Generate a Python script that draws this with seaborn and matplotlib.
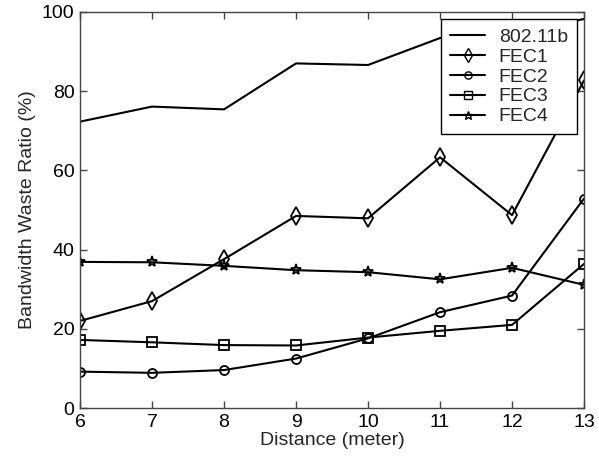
import numpy as np
import pandas as pd
import seaborn as sns
import matplotlib
matplotlib.use("Agg")
import matplotlib.pyplot as plt
from matplotlib.lines import Line2D

distance = [6, 7, 8, 9, 10, 11, 12, 13]
wlan = [72.3, 76.1, 75.4, 87.0, 86.6, 93.4, 95.0, 98.2]
fec1 = [22.0, 27.0, 37.6, 48.5, 47.9, 63.3, 48.7, 82.7]
fec2 = [9.2, 8.9, 9.6, 12.5, 17.6, 24.2, 28.4, 52.9]
fec3 = [17.2, 16.6, 15.9, 15.8, 17.8, 19.5, 21.0, 36.4]
fec4 = [36.9, 36.8, 35.9, 34.8, 34.3, 32.5, 35.4, 31.1]
series_names = ["802.11b", "FEC1", "FEC2", "FEC3", "FEC4"]
series_vals = [wlan, fec1, fec2, fec3, fec4]

sns.set_style("white")
plt.rcParams["font.family"] = ["Liberation Sans", "DejaVu Sans"]

fig = plt.figure(figsize=(5.99, 4.58), dpi=100)
fig.patch.set_facecolor("white")
ax = fig.add_axes([0.1336, 0.109, 0.8414, 0.865])

markers = {"802.11b": None, "FEC1": "d", "FEC2": "o", "FEC3": "s", "FEC4": "*"}
msizes = {"802.11b": 0, "FEC1": 9, "FEC2": 6.5, "FEC3": 6.5, "FEC4": 8}

for name, vals in zip(series_names, series_vals):
    d = pd.DataFrame({"Distance": distance, "Ratio": vals})
    kw = dict(color="black", linewidth=1.5, ax=ax)
    if markers[name]:
        kw.update(marker=markers[name], markersize=msizes[name],
                  markerfacecolor="none", markeredgecolor="black",
                  markeredgewidth=1.3)
    sns.lineplot(data=d, x="Distance", y="Ratio", **kw)

ax.set_xlim(6, 13)
ax.set_ylim(0, 100)
ax.set_xticks(distance)
ax.set_yticks([0, 20, 40, 60, 80, 100])
ax.tick_params(direction="in", length=5, width=1, labelsize=14, top=True, right=True,
               bottom=True, left=True, labeltop=False, labelright=False, pad=4,
               colors="#444444", labelcolor="black")
for s in ax.spines.values():
    s.set_visible(True)
    s.set_color("#444444")
    s.set_linewidth(1)

ax.set_xlabel("Distance (meter)", fontsize=14, labelpad=1)
ax.set_ylabel("Bandwidth Waste Ratio (%)", fontsize=14, labelpad=4)

handles = [Line2D([], [], color="black", lw=1.5, marker=markers[n],
                  markerfacecolor="none", markeredgecolor="black",
                  markersize=(msizes[n] * 0.8) or 1)
           for n in series_names]
leg = ax.legend(handles, series_names, loc="upper right", fontsize=14,
                frameon=True, fancybox=False, edgecolor="black", framealpha=1,
                borderaxespad=0.38, handlelength=1.8, labelspacing=0.12,
                borderpad=0.45, handletextpad=0.7)
leg.get_frame().set_linewidth(1)

fig.savefig("out.png", dpi=100, facecolor="white")
